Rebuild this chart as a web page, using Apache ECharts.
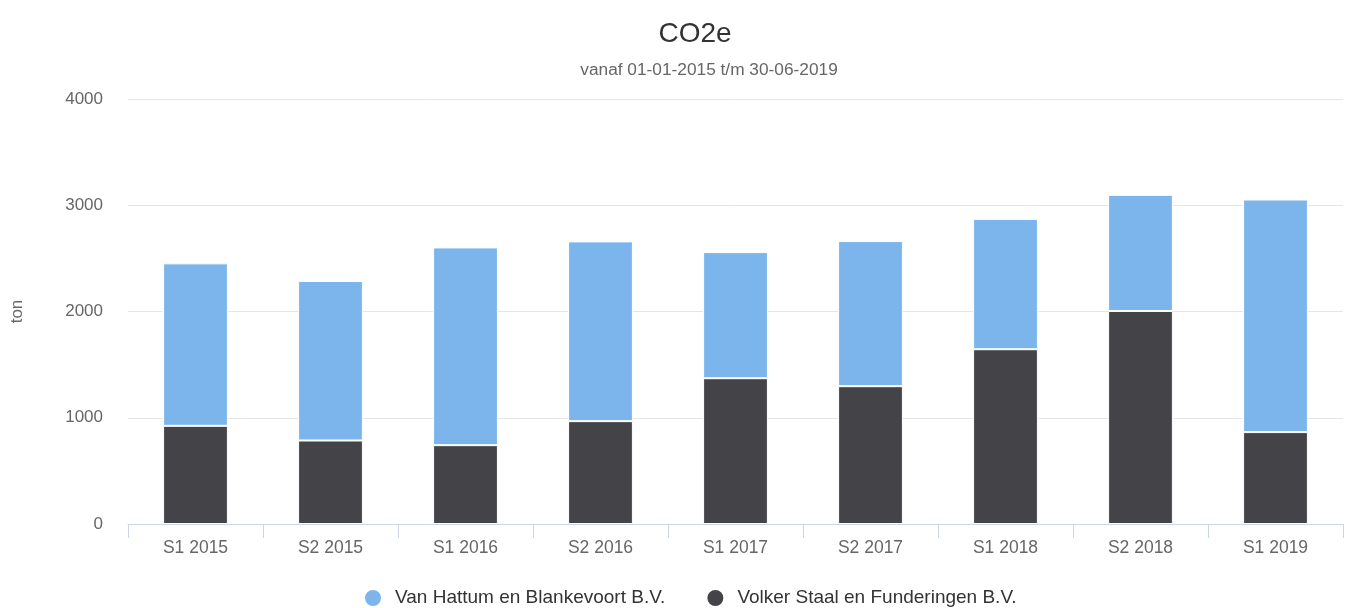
<!DOCTYPE html>
<html>
<head>
<meta charset="utf-8">
<script src="https://cdn.jsdelivr.net/npm/echarts@6/dist/echarts.min.js"></script>
<style>
  html, body { margin: 0; padding: 0; background: #fff; }
  #chart { width: 1345px; height: 608px; }
</style>
</head>
<body>
<div id="chart"></div>
<script>
  const categories = ['S1 2015', 'S2 2015', 'S1 2016', 'S2 2016', 'S1 2017', 'S2 2017', 'S1 2018', 'S2 2018', 'S1 2019']
  const vanHattum = [1529, 1501, 1861, 1692, 1187, 1366, 1227, 1093, 2189]
  const volkerStaal = [924, 786, 742, 968, 1372, 1297, 1645, 2005, 865]
  const yTicks = [0, 1000, 2000, 3000, 4000]

  const font = '"Liberation Sans", Arial, sans-serif'
  const myChart = echarts.init(document.getElementById('chart'))
  myChart.setOption({
    backgroundColor: '#ffffff',
    animation: false,
    title: [
      {
        text: 'CO2e',
        left: 690,
        top: 15,
        textAlign: 'center',
        textStyle: { fontFamily: font, fontSize: 28, fontWeight: 'normal', color: '#333333' }
      },
      {
        text: 'vanaf 01-01-2015 t/m 30-06-2019',
        left: 704,
        top: 57,
        textAlign: 'center',
        textStyle: { fontFamily: font, fontSize: 17.3, fontWeight: 'normal', color: '#666666' }
      }
    ],
    legend: {
      top: 583,
      left: 358,
      icon: 'circle',
      itemWidth: 18,
      itemHeight: 18,
      itemGap: 40,
      textStyle: { fontFamily: font, fontSize: 19, color: '#333333', padding: [0, 0, 0, 8] },
      data: ['Van Hattum en Blankevoort B.V.', 'Volker Staal en Funderingen B.V.']
    },
    grid: { left: 128, right: 2, top: 99, bottom: 84 },
    xAxis: {
      type: 'category',
      data: categories,
      axisLine: { lineStyle: { color: '#ccd6eb' } },
      axisTick: { show: true, length: 14, lineStyle: { color: '#ccd6eb' } },
      axisLabel: { fontFamily: font, fontSize: 17.5, color: '#666666', margin: 15 }
    },
    yAxis: {
      type: 'value',
      min: yTicks[0],
      max: yTicks[yTicks.length - 1],
      interval: 1000,
      name: 'ton',
      nameLocation: 'middle',
      nameGap: 102,
      nameTextStyle: { fontFamily: font, fontSize: 17, color: '#666666' },
      axisLabel: { fontFamily: font, fontSize: 17, color: '#666666', margin: 25, formatter: (v) => String(v) },
      splitLine: { lineStyle: { color: '#e6e6e6' } },
      axisLine: { show: false },
      axisTick: { show: false }
    },
    series: [
      {
        name: 'Volker Staal en Funderingen B.V.',
        type: 'bar',
        stack: 'total',
        barWidth: '48%',
        data: volkerStaal,
        itemStyle: { color: '#434348', borderColor: '#ffffff', borderWidth: 1 }
      },
      {
        name: 'Van Hattum en Blankevoort B.V.',
        type: 'bar',
        stack: 'total',
        barWidth: '48%',
        data: vanHattum,
        itemStyle: { color: '#7cb5ec', borderColor: '#ffffff', borderWidth: 1 }
      }
    ]
  })
</script>
</body>
</html>
